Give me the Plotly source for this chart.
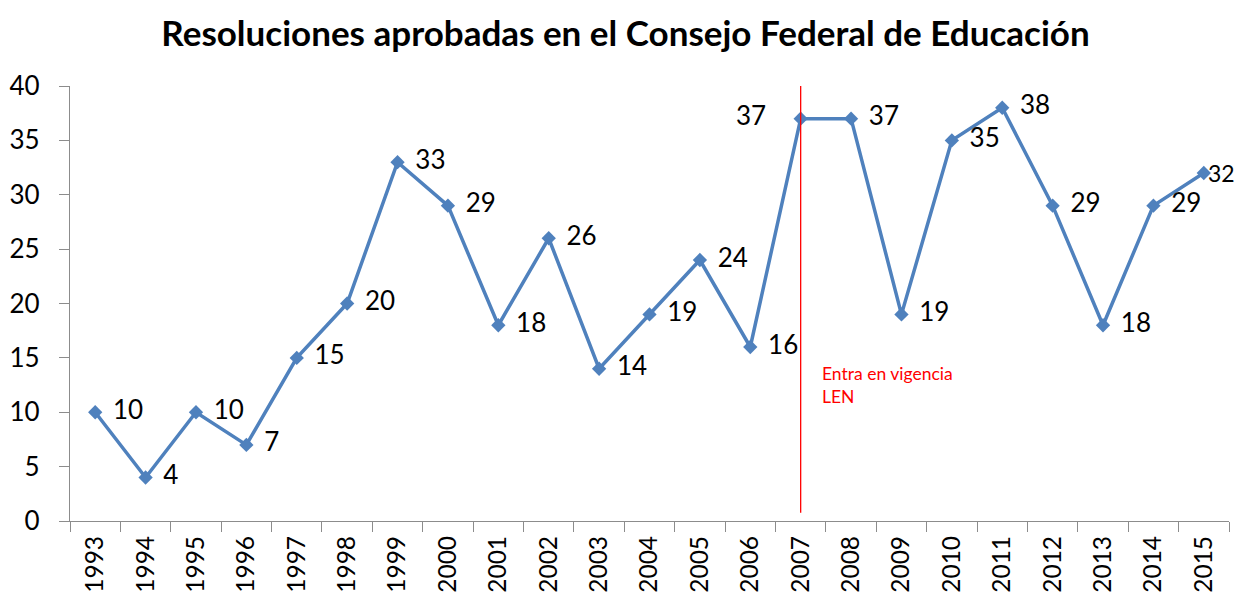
import plotly.graph_objects as go

years = [str(y) for y in range(1993, 2016)]
values = [10, 4, 10, 7, 15, 20, 33, 29, 18, 26, 14, 19, 24, 16, 37, 37, 19, 35, 38, 29, 18, 29, 32]

NB = "\u00a0"
TH = "\u2009"
label_pos = ["middle right"] * len(years)
labels = [NB + TH + str(v) for v in values]
i07 = years.index("2007")
label_pos[i07] = "middle left"
labels[i07] = str(values[i07]) + NB * 4
last = len(years) - 1
labels[last] = ""

fig = go.Figure()
fig.add_trace(go.Scatter(
    x=list(range(len(years))), y=values, mode="lines+markers+text",
    line=dict(color="#4F81BD", width=3.5),
    marker=dict(symbol="diamond", size=11, color="#4F81BD"),
    text=labels, textposition=label_pos,
    textfont=dict(family="Lato, Carlito, sans-serif", size=26, color="black"),
    cliponaxis=False, showlegend=False,
))
# last label placed tight against the right edge, as in the reference
fig.add_annotation(x=last, y=values[last], xref="x", yref="y", xshift=3, xanchor="left",
                   yanchor="middle", text=str(values[last]), showarrow=False, borderpad=0,
                   font=dict(family="Lato, Carlito, sans-serif", size=23, color="black"))

fig.add_shape(type="line", xref="x", yref="y", x0=i07, x1=i07, y0=0.75, y1=40.3,
              line=dict(color="#FF0000", width=1.3))
fig.add_annotation(x=i07, y=12.5, xref="x", yref="y", xshift=19, xanchor="left", yanchor="middle",
                   text="Entra en vigencia<br>LEN", showarrow=False, align="left",
                   font=dict(family="Lato, Carlito, sans-serif", size=17.5, color="#FF0000"))

fig.update_layout(
    width=1235, height=588,
    margin=dict(l=62, r=14, t=78, b=75),
    paper_bgcolor="white", plot_bgcolor="white",
    title=dict(text="<b>Resoluciones aprobadas en el Consejo Federal de Educación</b>",
               x=0.5, xanchor="center", y=0.957, yanchor="middle",
               font=dict(family="Lato, Carlito, sans-serif", size=35, color="black")),
    font=dict(family="Lato, Carlito, sans-serif", color="black"),
)
fig.update_xaxes(range=[-0.5, len(years) - 0.5], tickmode="array",
                 tickvals=list(range(len(years))), ticktext=years, tickangle=-90,
                 ticks="", showline=True, linecolor="#8c8c8c", linewidth=1.3,
                 showgrid=False, tickfont=dict(size=24.5), zeroline=False,
                 ticklabelstandoff=4, automargin=False,
                 minor=dict(tickmode="array", tickvals=[i - 0.5 for i in range(len(years) + 1)],
                            ticks="outside", ticklen=10, tickcolor="#8c8c8c", tickwidth=1.3))
fig.update_yaxes(range=[0, 40], dtick=5, ticks="outside", ticklen=10, tickcolor="#8c8c8c",
                 tickwidth=1.3, showline=True, linecolor="#8c8c8c", linewidth=1.3, showgrid=False,
                 tickfont=dict(size=26), zeroline=False, ticklabelstandoff=14, automargin=False)

fig.write_html("out.html")
